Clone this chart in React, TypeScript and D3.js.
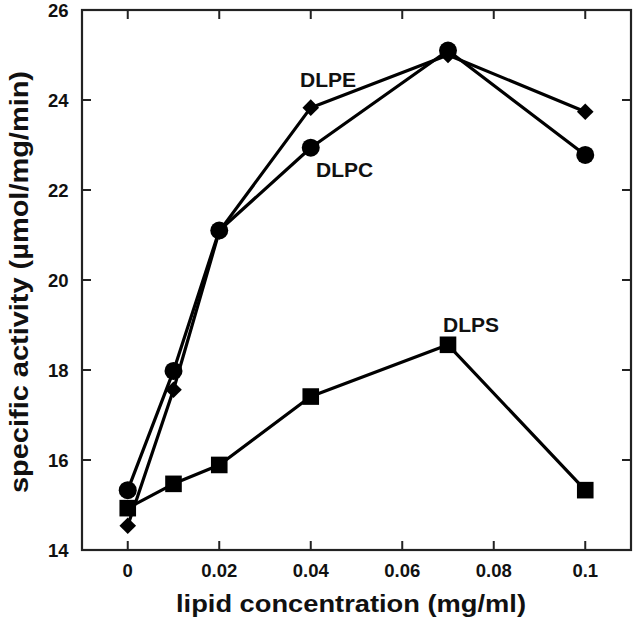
import React from "react";
import * as d3 from "d3";

const concentrations = [0, 0.01, 0.02, 0.04, 0.07, 0.1];
const dlpcValues = [15.33, 17.98, 21.1, 22.94, 25.1, 22.78];
const dlpeValues = [14.54, 17.56, 21.08, 23.83, 25.0, 23.74];
const dlpsValues = [14.93, 15.47, 15.89, 17.41, 18.56, 15.33];
const xTicks = [0, 0.02, 0.04, 0.06, 0.08, 0.1];
const yTicks = [14, 16, 18, 20, 22, 24, 26];
const xTitle = "lipid concentration (mg/ml)";
const yTitle = "specific activity (µmol/mg/min)";

const W = 633;
const H = 624;
const left = 82;
const right = 631;
const top = 10;
const bottom = 550;
const FONT = "'Liberation Sans', Arial, Helvetica, sans-serif";

export default function App() {
  const x = d3.scaleLinear().domain([-0.01, 0.11]).range([left, right]);
  const y = d3.scaleLinear().domain([14, 26]).range([bottom, top]);
  const line = d3
    .line<[number, number]>()
    .x((d) => x(d[0]))
    .y((d) => y(d[1]));
  const pts = (vals: number[]) => concentrations.map((c, i) => [c, vals[i]] as [number, number]);
  const tickLen = 9;
  const stroke = "#000";

  return (
    <svg
      width={W}
      height={H}
      style={{ position: "absolute", left: 0, top: 0, background: "#fff" }}
      fontFamily={FONT}
    >
      <rect x={0} y={0} width={W} height={H} fill="#fff" />
      {/* frame */}
      <rect
        x={left}
        y={top}
        width={right - left}
        height={bottom - top}
        fill="none"
        stroke="#222"
        strokeWidth={2.2}
      />
      {/* x ticks */}
      {xTicks.map((t) => (
        <g key={"xt" + t}>
          <line x1={x(t)} x2={x(t)} y1={bottom} y2={bottom - tickLen} stroke="#222" strokeWidth={2} />
          <line x1={x(t)} x2={x(t)} y1={top} y2={top + tickLen} stroke="#222" strokeWidth={2} />
          <text
            x={x(t)}
            y={577}
            textAnchor="middle"
            fontSize={18.5}
            fontWeight="bold"
            fill="#111"
          >
            {t === 0 ? "0" : String(t)}
          </text>
        </g>
      ))}
      {/* y ticks */}
      {yTicks.map((t) => (
        <g key={"yt" + t}>
          <line x1={left} x2={left + tickLen} y1={y(t)} y2={y(t)} stroke="#222" strokeWidth={2} />
          <line x1={right} x2={right - tickLen} y1={y(t)} y2={y(t)} stroke="#222" strokeWidth={2} />
          <text
            x={68.5}
            y={y(t)}
            dy="0.36em"
            textAnchor="end"
            fontSize={18.5}
            fontWeight="bold"
            fill="#111"
          >
            {t}
          </text>
        </g>
      ))}
      {/* lines */}
      <path d={line(pts(dlpcValues)) || ""} fill="none" stroke={stroke} strokeWidth={3.2} strokeLinejoin="round" />
      <path d={line(pts(dlpeValues)) || ""} fill="none" stroke={stroke} strokeWidth={3.2} strokeLinejoin="round" />
      <path d={line(pts(dlpsValues)) || ""} fill="none" stroke={stroke} strokeWidth={3.2} strokeLinejoin="round" />
      {/* markers */}
      {pts(dlpcValues).map((d, i) => (
        <circle key={"c" + i} cx={x(d[0])} cy={y(d[1])} r={9} fill={stroke} />
      ))}
      {pts(dlpeValues).map((d, i) => {
        const cx = x(d[0]);
        const cy = y(d[1]);
        const s = 8.3;
        return (
          <path
            key={"d" + i}
            d={`M${cx},${cy - s}L${cx + s},${cy}L${cx},${cy + s}L${cx - s},${cy}Z`}
            fill={stroke}
          />
        );
      })}
      {pts(dlpsValues).map((d, i) => (
        <rect key={"s" + i} x={x(d[0]) - 8.3} y={y(d[1]) - 8.3} width={16.6} height={16.6} fill={stroke} />
      ))}
      {/* series labels */}
      <text x={300} y={86.7} fontSize={21} fontWeight="bold" fill="#111">DLPE</text>
      <text x={316} y={176.7} fontSize={21} fontWeight="bold" fill="#111">DLPC</text>
      <text x={443} y={332} fontSize={21} fontWeight="bold" fill="#111">DLPS</text>
      {/* axis titles */}
      <text
        x={351}
        y={612}
        textAnchor="middle"
        fontSize={24}
        fontWeight="bold"
        fill="#111"
        textLength={350}
        lengthAdjust="spacingAndGlyphs"
      >
        {xTitle}
      </text>
      <text
        transform={`translate(27.5,282) rotate(-90)`}
        textAnchor="middle"
        fontSize={25}
        fontWeight="bold"
        fill="#111"
        textLength={422}
        lengthAdjust="spacingAndGlyphs"
      >
        {yTitle}
      </text>
    </svg>
  );
}
